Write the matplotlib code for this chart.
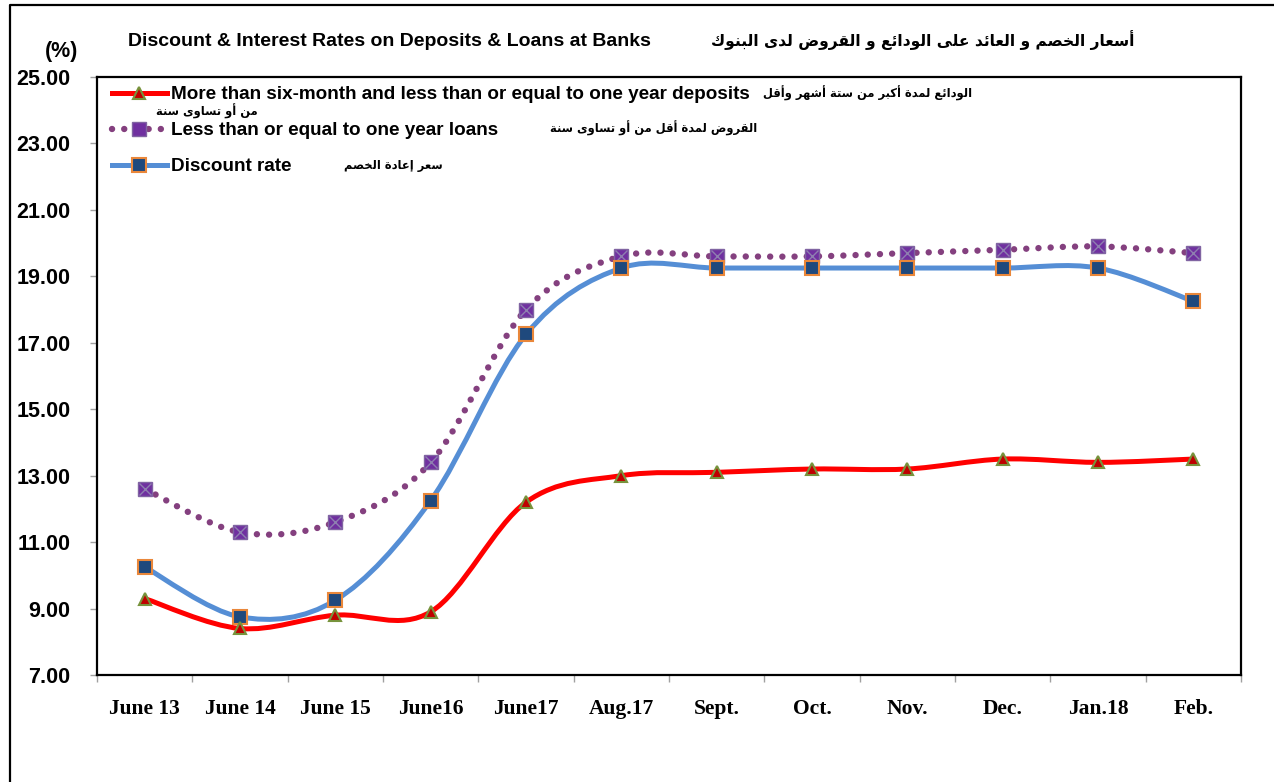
import matplotlib
matplotlib.use("Agg")
import matplotlib.pyplot as plt
from matplotlib.path import Path
from matplotlib.patches import PathPatch
from matplotlib.lines import Line2D

# Daten
labels = ["June 13", "June 14", "June 15", "June16", "June17", "Aug.17",
          "Sept.", "Oct.", "Nov.", "Dec.", "Jan.18", "Feb."]
deposits = [9.3, 8.4, 8.8, 8.9, 12.2, 13.0, 13.1, 13.2, 13.2, 13.5, 13.4, 13.5]
loans = [12.6, 11.3, 11.6, 13.4, 18.0, 19.6, 19.6, 19.6, 19.7, 19.8, 19.9, 19.7]
discount = [10.25, 8.75, 9.25, 12.25, 17.25, 19.25, 19.25, 19.25, 19.25, 19.25, 19.25, 18.25]
yticks = [7, 9, 11, 13, 15, 17, 19, 21, 23, 25]

title_en = "Discount & Interest Rates on Deposits & Loans at Banks"
title_ar = "أسعار الخصم و العائد على الودائع و القروض لدى البنوك"
leg_en = ["More than six-month and less than or equal to one year deposits",
          "Less than or equal to one year loans",
          "Discount rate"]
leg_ar1 = "الودائع لمدة أكبر من ستة أشهر وأقل"
leg_ar1b = "من أو تساوى سنة"
leg_ar2 = "القروض لمدة أقل من أو تساوى سنة"
leg_ar3 = "سعر إعادة الخصم"

# Arabische Buchstabenformen (isoliert, final, initial, medial)
FORMS = {
    "ا": (0xFE8D, 0xFE8E), "أ": (0xFE83, 0xFE84), "إ": (0xFE87, 0xFE88),
    "ب": (0xFE8F, 0xFE90, 0xFE91, 0xFE92), "ة": (0xFE93, 0xFE94),
    "ت": (0xFE95, 0xFE96, 0xFE97, 0xFE98), "خ": (0xFEA5, 0xFEA6, 0xFEA7, 0xFEA8),
    "د": (0xFEA9, 0xFEAA), "ر": (0xFEAD, 0xFEAE),
    "س": (0xFEB1, 0xFEB2, 0xFEB3, 0xFEB4), "ش": (0xFEB5, 0xFEB6, 0xFEB7, 0xFEB8),
    "ص": (0xFEB9, 0xFEBA, 0xFEBB, 0xFEBC), "ض": (0xFEBD, 0xFEBE, 0xFEBF, 0xFEC0),
    "ع": (0xFEC9, 0xFECA, 0xFECB, 0xFECC), "ق": (0xFED5, 0xFED6, 0xFED7, 0xFED8),
    "ك": (0xFED9, 0xFEDA, 0xFEDB, 0xFEDC), "ل": (0xFEDD, 0xFEDE, 0xFEDF, 0xFEE0),
    "م": (0xFEE1, 0xFEE2, 0xFEE3, 0xFEE4), "ن": (0xFEE5, 0xFEE6, 0xFEE7, 0xFEE8),
    "ه": (0xFEE9, 0xFEEA, 0xFEEB, 0xFEEC), "و": (0xFEED, 0xFEEE),
    "ى": (0xFEEF, 0xFEF0), "ئ": (0xFE89, 0xFE8A, 0xFE8B, 0xFE8C),
    "ي": (0xFEF1, 0xFEF2, 0xFEF3, 0xFEF4),
}

def arabisch(text):
    out = []
    for i, ch in enumerate(text):
        if ch not in FORMS:
            out.append(ch)
            continue
        f = FORMS[ch]
        vor = text[i - 1] if i > 0 else ""
        nach = text[i + 1] if i + 1 < len(text) else ""
        mit_vor = vor in FORMS and len(FORMS[vor]) == 4
        mit_nach = len(f) == 4 and nach in FORMS
        if mit_vor and mit_nach:
            out.append(chr(f[3]))
        elif mit_vor:
            out.append(chr(f[1]))
        elif mit_nach:
            out.append(chr(f[2]))
        else:
            out.append(chr(f[0]))
    return "".join(reversed(out))

# Geglättete Linie wie in Excel (Bezier-Kurven)
def glatte_linie(xs, ys):
    p = list(zip(xs, ys))
    verts = [p[0]]
    codes = [Path.MOVETO]
    for i in range(len(p) - 1):
        p0 = p[i - 1] if i > 0 else p[i]
        p1, p2 = p[i], p[i + 1]
        p3 = p[i + 2] if i + 2 < len(p) else p[i + 1]
        c1 = (p1[0] + (p2[0] - p0[0]) / 6, p1[1] + (p2[1] - p0[1]) / 6)
        c2 = (p2[0] - (p3[0] - p1[0]) / 6, p2[1] - (p3[1] - p1[1]) / 6)
        verts += [c1, c2, p2]
        codes += [Path.CURVE4] * 3
    return Path(verts, codes)

W, H = 1274, 782
fig = plt.figure(figsize=(W / 100, H / 100), dpi=100)
ax = fig.add_axes([97 / W, 1 - 675 / H, (1241 - 97) / W, (675 - 77) / H])

x = list(range(len(labels)))
rot, blau, lila = "#FF0000", "#558ED5", "#84407F"

ax.add_patch(PathPatch(glatte_linie(x, deposits), fill=False, edgecolor=rot, lw=3.6, zorder=3))
ax.add_patch(PathPatch(glatte_linie(x, loans), fill=False, edgecolor=lila, lw=4.6,
                       linestyle=(0, (0.01, 1.9)), capstyle="round", zorder=2))
ax.add_patch(PathPatch(glatte_linie(x, discount), fill=False, edgecolor=blau, lw=3.6, zorder=2))

ax.plot(x, deposits, ls="none", marker="^", ms=9, mfc="#C00000", mec="#77933C", mew=1.5, zorder=5)
ax.plot(x, loans, ls="none", marker="s", ms=10, mfc="#7030A0", mec="#8064A2", mew=1, zorder=4)
ax.plot(x, loans, ls="none", marker="x", ms=9, mec="#8E7FB0", mew=1, zorder=4)
ax.plot(x, discount, ls="none", marker="s", ms=9.5, mfc="#1F497D", mec="#E9873A", mew=1.5, zorder=4)

ax.set_xlim(-0.5, len(labels) - 0.5)
ax.set_ylim(7, 25)
ax.set_yticks(yticks)
ax.set_yticklabels([f"{v:.2f}" for v in yticks], fontfamily="Liberation Sans",
                   fontweight="bold", fontsize=15.5)
ax.set_xticks(x)
ax.set_xticklabels(labels, fontfamily="Liberation Serif", fontweight="bold", fontsize=15.5)
ax.set_xticks([i - 0.5 for i in range(len(labels) + 1)], minor=True)
ax.tick_params(axis="x", which="major", length=0, pad=17)
ax.tick_params(axis="x", which="minor", length=5, color="#A0A0A0", width=1)
ax.tick_params(axis="y", length=5, color="#A0A0A0", width=1, pad=14)
for s in ax.spines.values():
    s.set_linewidth(1.6)
    s.set_color("black")

# Legende
handles = [
    Line2D([], [], color=rot, lw=3.6, marker="^", ms=9, mfc="#C00000", mec="#77933C", mew=1.5),
    Line2D([], [], color=lila, lw=4.6, ls=(0, (0.01, 1.9)), dash_capstyle="round",
           marker="s", ms=10, mfc="#7030A0", mec="#8064A2"),
    Line2D([], [], color=blau, lw=3.6, marker="s", ms=9.5, mfc="#1F497D", mec="#E9873A", mew=1.5),
]
ax.legend(handles, leg_en, loc="upper left", bbox_to_anchor=(112 / W, 1 - 86 / H),
          bbox_transform=fig.transFigure, frameon=False, borderpad=0, borderaxespad=0,
          handlelength=2.9, handletextpad=0.22, labelspacing=1.0,
          prop={"family": "Liberation Sans", "weight": "bold", "size": 13.6})

def fig_text(px, py, s, ha="left", **kw):
    fig.text(px / W, 1 - py / H, s, ha=ha, **kw)

arab_stil = dict(family="DejaVu Sans", fontweight="bold", fontsize=8.3, va="center")
fig_text(972, 93, arabisch(leg_ar1), ha="right", **arab_stil)
fig_text(258, 111, arabisch(leg_ar1b), ha="right", **arab_stil)
fig_text(757, 128, arabisch(leg_ar2), ha="right", **arab_stil)
fig_text(443, 166, arabisch(leg_ar3), ha="right", **arab_stil)

# Titel
fig_text(389, 42, title_en, ha="center", va="center", family="Liberation Sans",
         fontweight="bold", fontsize=14)
fig_text(923, 40, arabisch(title_ar), ha="center", va="center", family="DejaVu Sans",
         fontweight="bold", fontsize=11.2)
fig_text(78, 52, "(%)", ha="right", va="center", family="Liberation Sans",
         fontweight="bold", fontsize=15.5)

# Rahmen
fig.add_artist(Line2D([10 / W, 10 / W, 1], [0, 1 - 5 / H, 1 - 5 / H], color="black",
                      lw=1.6, transform=fig.transFigure))

fig.savefig("out.png", dpi=100)
